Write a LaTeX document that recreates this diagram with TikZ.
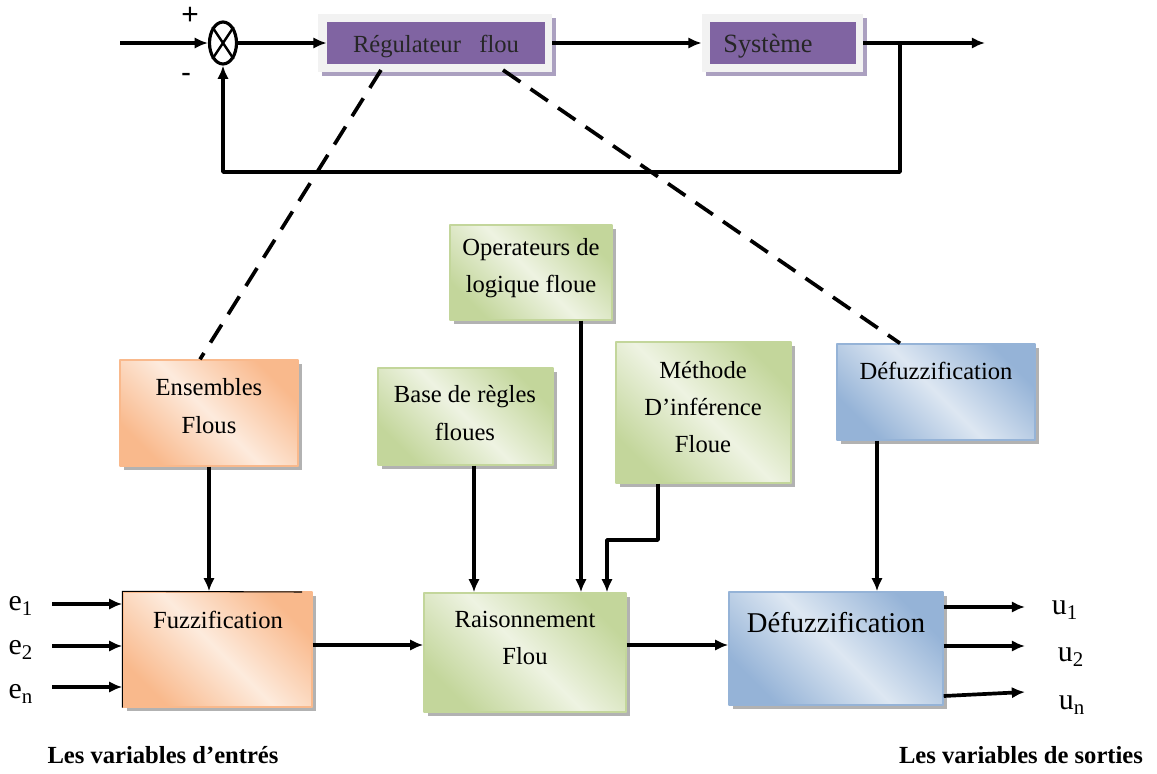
\documentclass[tikz,border=0pt]{standalone}
\usepackage{fontspec}
\setmainfont{Liberation Serif}
\setsansfont{Liberation Sans}
\usetikzlibrary{arrows.meta,fit,shapes.geometric,shadows}
\definecolor{regviolet}{HTML}{8064A2}
\definecolor{regframe}{HTML}{F2F2F2}
\definecolor{regshadow}{HTML}{ABA0C0}
\definecolor{orgdark}{HTML}{F9B98C}
\definecolor{orglight}{HTML}{FDEBDD}
\definecolor{grndark}{HTML}{C3D69B}
\definecolor{grnlight}{HTML}{EEF3E2}
\definecolor{bludark}{HTML}{95B3D7}
\definecolor{blulight}{HTML}{DDE7F2}
\begin{document}
\begin{tikzpicture}[x=0.02cm, y=-0.02cm, font=\fontsize{14}{21.3}\selectfont, line join=round,
    >={Latex[length=7.5pt,width=6.5pt]},
    fl/.style={line width=2.1pt},
    dashline/.style={line width=2.1pt, dash pattern=on 12pt off 7pt},
    blk/.style={inner sep=0pt, align=center, line width=0.8pt,
        drop shadow={shadow xshift=2.5pt, shadow yshift=-2.5pt, fill=black!30, opacity=1}},
    orangebox/.style={blk, draw=orgdark, left color=orgdark, right color=orgdark, middle color=orglight, shading angle=135},
    greenbox/.style={blk, draw=grndark, left color=grndark, right color=grndark, middle color=grnlight, shading angle=135},
    bluebox/.style={blk, draw=bludark, left color=bludark, right color=bludark, middle color=blulight, shading angle=135},
    frame/.style={inner sep=0pt, fill=regframe,
        drop shadow={shadow xshift=2.5pt, shadow yshift=-2.5pt, fill=regshadow, opacity=1}},
    violetbox/.style={inner sep=0pt, fill=regviolet},
    sgn/.style={font=\sffamily\fontsize{17}{18}\selectfont},
    lbl/.style={font=\fontsize{17}{18}\selectfont}]
\useasboundingbox (0,0) rectangle (1157,774);

% boucle de regulation
\coordinate (in) at (120,43);
\node[ellipse, draw, line width=1.8pt, minimum width=0.54cm, minimum height=0.84cm, inner sep=0pt] (sum) at (223,43) {};
\draw[line width=1.4pt] (sum.north west) -- (sum.south east) (sum.north east) -- (sum.south west);
\node[sgn] (plus) at (190,16) {+};
\node[sgn] (minus) at (186,78) {-};
\node[frame, fit={(318,14) (552,72)}] (regf) {};
\node[violetbox, fit={(327,22) (545,64)}] (reg) {};
\node[text=black!85] (regtxt) at (436,46) {Régulateur\ \ \ flou};
\node[frame, fit={(702,14) (863,72)}] (sysf) {};
\node[violetbox, fit={(710,22) (856,64)}] (sys) {};
\node[text=black!85, font=\fontsize{15}{18}\selectfont] (systxt) at (768,46) {Système};
\coordinate (out) at (985,43);
\coordinate (br) at (900,43);
\coordinate (fb) at (900,172);
\draw[fl,->] (in) -- (sum.west);
\draw[fl,->] (sum.east) -- (reg.west |- sum);
\draw[fl,->] (regf.east) -- (sysf.west);
\draw[fl,->] (sysf.east) -- (out);
\draw[fl,->] (br) -- (fb) -| (sum.south);

% blocs du regulateur
\node[orangebox, fit={(120,360) (298,466)}] (ens) {};
\node[align=center] (enstxt) at (209,406) {Ensembles\\Flous};
\node[greenbox, fit={(378,368) (553,465)}] (base) {};
\node[align=center] (basetxt) at (465,413) {Base de règles\\floues};
\node[greenbox, fit={(450,225) (612,320)}] (oper) {};
\node[align=center] (opertxt) at (531,268) {Operateurs de\\logique floue};
\node[greenbox, fit={(616,342) (791,483)}] (meth) {};
\node[align=center] (methtxt) at (703,407) {Méthode\\D’inférence\\Floue};
\node[bluebox, fit={(837,344) (1035,440)}] (defh) {};
\node (defhtxt) at (936,371) {Défuzzification};

\node[orangebox, fit={(123,592) (312,707)}] (fuzz) {};
\node (fuzztxt) at (218,620) {Fuzzification};
\draw[line width=0.6pt] (fuzz.south west) -- (fuzz.north west) -- (302,592);
\node[greenbox, fit={(424,593) (626,712)}] (rais) {};
\node[align=center] (raistxt) at (525,638) {Raisonnement\\Flou};
\node[bluebox, fit={(729,592) (943,705)}] (defb) {};
\node[font=\fontsize{16.3}{20}\selectfont] (defbtxt) at (836,623) {Défuzzification};

% liens
\coordinate (d1) at (381,70);
\coordinate (d2) at (503,70);
\draw[dashline] (d1) -- ([xshift=-0.18cm]ens.north);
\draw[dashline] (d2) -- ([xshift=-0.72cm]defh.north);
\draw[fl,->] (ens.south) -- (ens.south |- fuzz.north);
\draw[fl,->] (base.south -| 474,0) -- (rais.north -| 474,0);
\draw[fl,->] (oper.south -| 581,0) -- (rais.north -| 581,0);
\coordinate (mbend) at (658,540);
\draw[fl,->] (meth.south -| mbend) -- (mbend) -| (rais.north -| 607,0);
\draw[fl,->] (defh.south -| 877,0) -- (defb.north -| 877,0);
\draw[fl,->] (fuzz.east |- 0,645) -- (rais.west |- 0,645);
\draw[fl,->] (rais.east |- 0,645) -- (defb.west |- 0,645);

% entrees / sorties
\coordinate (e1s) at (52,604);
\coordinate (e2s) at (52,646);
\coordinate (ens0) at (52,687);
\draw[fl,->] (e1s) -- (fuzz.west |- e1s);
\draw[fl,->] (e2s) -- (fuzz.west |- e2s);
\draw[fl,->] (ens0) -- (fuzz.west |- ens0);
\node[lbl] (e1) at (21,606) {e\textsubscript{1}};
\node[lbl] (e2) at (21,650) {e\textsubscript{2}};
\node[lbl] (en) at (21,694) {e\textsubscript{n}};
\coordinate (u1e) at (1025,607);
\coordinate (u2e) at (1025,646);
\coordinate (une) at (1025,692);
\draw[fl,->] (defb.east |- u1e) -- (u1e);
\draw[fl,->] (defb.east |- u2e) -- (u2e);
\draw[fl,->] (defb.east |- 0,696) -- (une);
\node[lbl] (u1) at (1065,610) {u\textsubscript{1}};
\node[lbl] (u2) at (1071,657) {u\textsubscript{2}};
\node[lbl] (un) at (1072,705) {u\textsubscript{n}};
\node[font=\fontsize{14}{17}\selectfont\bfseries] (entrees) at (163,755) {Les variables d’entrés};
\node[font=\fontsize{14}{17}\selectfont\bfseries] (sorties) at (1021,755) {Les variables de sorties};
\end{tikzpicture}
\end{document}
